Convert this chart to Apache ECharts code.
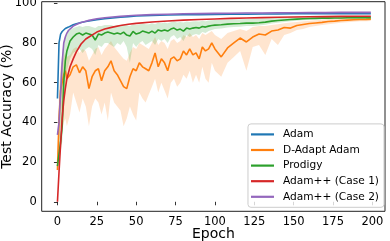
<!DOCTYPE html>
<html>
<head>
<meta charset="utf-8">
<script src="https://cdn.jsdelivr.net/npm/echarts@6/dist/echarts.min.js"></script>
<style>
html,body{margin:0;padding:0;background:#fff;}
#chart{width:390px;height:241px;}
</style>
</head>
<body>
<div id="chart"></div>
<script>
// ---- data ----
const xTicks = [0, 25, 50, 75, 100, 125, 150, 175, 200];
const yTicks = [0, 20, 40, 60, 80, 100];
const seriesNames = ['Adam', 'D-Adapt Adam', 'Prodigy', 'Adam++ (Case 1)', 'Adam++ (Case 2)'];

const epochsSmooth = [0,1,2,3,4,5,6,7,8,10,12,15,18,20,25,30,35,40,45,50,60,70,80,90,100,110,120,130,140,150,160,170,180,190,199];
const adam = [52,80,84.5,85.8,86.6,87.3,87.8,88,88.5,89.2,89.7,90.3,90.8,91.1,91.7,92.2,92.6,93,93.3,93.6,93.9,94.1,94.2,94.3,94.4,94.5,94.5,94.6,94.6,94.7,94.7,94.7,94.8,94.8,94.8];
const adamCase1 = [0,15,29,42,51,57,62,65,68,72,75.5,79.5,82,83,85.5,87,88,88.8,89.4,89.9,90.6,91.1,91.5,91.8,92.1,92.4,92.6,92.8,93,93.1,93.2,93.3,93.4,93.5,93.5];
const adamCase2 = [33.7,40,55,70,80,83,85,86.3,87.3,88.5,89.3,90.3,91,91.4,92.2,92.7,93.1,93.4,93.7,94,94.3,94.5,94.7,94.8,94.9,95,95.1,95.1,95.2,95.2,95.3,95.3,95.4,95.4,95.4];

const epochsNoisy = [0,1,2,3,4,5,6,
  8,10,12,14,16,18,20,22,24,26,
  28,30,32,34,36,38,40,42,44,46,
  48,50,52,54,56,58,60,62,64,66,
  68,70,72,74,76,78,80,82,84,86,
  88,90,92,94,96,98,100,
  104,108,112,116,120,124,128,132,136,140,
  144,148,152,156,160,164,168,172,176,180,
  184,188,192,196,199];

const dadapt = [16,42,56,60,64,66,62,
  64,68,69,65,68,66,57,63,66,67,
  61,66,68,71,66,64,61,58,57,63,
  67,66,70,68,67,66,70,75,68,72,
  70,66,72,73,71,72,76,74,77,74,
  75,72,78,76,77,80,77,
  73,77.5,80,82.5,80.5,83,84.5,84,86,86.5,
  87.8,87.5,88.8,89.3,89.8,90.1,90.4,90.8,91,91.3,
  91.5,91.7,91.8,91.9,92];
const dadaptLow = [14,26,38,35,40,42,38,
  44,55,50,45,52,48,38,48,52,50,
  44,50,41,55,50,48,46,38,42,48,
  44,41,55,52,50,54,58,62,55,60,
  56,52,60,62,58,60,64,62,66,60,
  64,60,68,62,60,70,66,
  63,70,73,76,66,78,79,74,82,79,
  84,85,86.5,87,88,88.5,89,89.5,89.8,90.2,
  90.5,90.7,90.9,91,91.1];
const dadaptHigh = [18,56,68,71,73,75,73,
  74,77,78,75,77,76,71,74,77,78,
  74,77,79,81,78,76,74,72,71,75,
  78,77,80,79,78,77,80,83,79,81,
  80,77,81,82,80,81,84,83,85,83,
  84,82,85,84,85,86,84,
  82,85,86,87,86,88,88.5,88.5,89,89.5,
  90,90.3,90.6,91,91.2,91.5,91.7,92,92.2,92.4,
  92.5,92.6,92.7,92.8,92.9];

const prodigy = [18,24,30,38,60,71,76,
  81,83,84.5,85,84,85,84.5,84,81.5,84.5,
  84,85,85.5,85,84.5,85,84.5,85.5,84,83.5,
  85.8,84.5,85,86,85.5,85,86,85,86.6,86,
  86.6,86,87,87.5,86.5,87,86,87.5,87,87.5,
  87.8,87.5,88.3,88,88.5,88.8,89,
  89.2,89.5,89.7,89.8,90,90,90.2,90.5,91,91.3,
  91.6,91.8,92,92.2,92.3,92.4,92.5,92.5,92.6,92.6,
  92.7,92.7,92.8,92.8,92.8];
const prodigyLow = [17,20,25,30,45,58,66,
  72,75,76,77,75,77,78,77,74,79,
  78,80,80,79,78,80,79,81,78,70,
  80,78,80,81,79,80,81,79,82,81,
  82,80,83,84,82,83,81,84,83,84,
  84.5,84,85.5,85,86,86.5,87,
  87.3,87.8,88,88.2,88.5,88.5,88.8,89.2,89.8,90.2,
  90.6,90.9,91.2,91.5,91.6,91.8,91.9,92,92.1,92.1,
  92.2,92.2,92.3,92.3,92.3];
const prodigyHigh = [19,50,65,75,80,83,85,
  86.5,87.5,88,88.5,88,88.5,88.5,88,87.5,88.5,
  88.5,89,89,89,88.5,89,89,89.5,89,88.5,
  89.5,89,89.5,90,89.5,89.5,90,89.5,90.3,90,
  90.3,90,90.5,90.8,90.3,90.6,90.3,90.8,90.6,90.8,
  91,90.8,91.2,91,91.3,91.5,91.6,
  91.7,91.8,91.9,92,92.1,92.2,92.3,92.5,92.7,92.9,
  93,93.1,93.2,93.3,93.3,93.4,93.4,93.4,93.5,93.5,
  93.5,93.5,93.5,93.5,93.5];

// ---- chart ----
const FONT = 'DejaVu Sans';
const zip = (xs, ys) => xs.map((x, i) => [x, ys[i]]);

function lineSeries(name, xs, ys, color, z) {
  return {
    type: 'line', name: name, data: zip(xs, ys), color: color,
    showSymbol: false, symbol: 'none', z: z,
    lineStyle: { width: 1.6, color: color },
    emphasis: { disabled: true }
  };
}
function bandSeries(name, xs, lo, hi, fill) {
  return {
    type: 'custom', name: name, coordinateSystem: 'cartesian2d', silent: true, z: 1,
    data: [[xs[0], lo[0]]],
    encode: { x: 0, y: 1 },
    renderItem: function (params, api) {
      const pts = [];
      for (let i = 0; i < xs.length; i++) pts.push(api.coord([xs[i], hi[i]]));
      for (let i = xs.length - 1; i >= 0; i--) pts.push(api.coord([xs[i], lo[i]]));
      return { type: 'polygon', shape: { points: pts }, style: { fill: fill } };
    }
  };
}

const chart = echarts.init(document.getElementById('chart'), null, { renderer: 'canvas' });
chart.setOption({
  animation: false,
  textStyle: { fontFamily: FONT },
  grid: { left: 41.7, right: 5, top: 1.7, bottom: 29.7, show: true,
          borderColor: '#222', borderWidth: 1, containLabel: false, outerBoundsMode: 'none' },
  xAxis: {
    type: 'value', min: -10, max: 208,
    name: 'Epoch', nameLocation: 'middle', nameGap: 16, nameMoveOverlap: false,
    nameTextStyle: { fontFamily: FONT, fontSize: 14, color: '#000' },
    axisLine: { show: false },
    axisTick: { show: true, length: 3.5, customValues: xTicks, lineStyle: { color: '#000', width: 0.8 } },
    axisLabel: { customValues: xTicks, fontFamily: FONT, fontSize: 11.5, color: '#000', margin: 5 },
    splitLine: { show: false }
  },
  yAxis: {
    type: 'value', min: -4.8, max: 100.8,
    name: 'Test Accuracy (%)', nameLocation: 'middle', nameGap: 27, nameMoveOverlap: false,
    nameTextStyle: { fontFamily: FONT, fontSize: 14, color: '#000' },
    axisLine: { show: false },
    axisTick: { show: true, length: 3.5, customValues: yTicks, lineStyle: { color: '#000', width: 0.8 } },
    axisLabel: { customValues: yTicks, fontFamily: FONT, fontSize: 11.5, color: '#000', margin: 5 },
    splitLine: { show: false }
  },
  legend: {
    data: seriesNames,
    orient: 'vertical', right: 6, bottom: 33.7,
    icon: 'rect', itemWidth: 23, itemHeight: 2.2, itemGap: 2.6,
    padding: [4, 5, 4, 3],
    backgroundColor: 'rgba(255,255,255,0.8)', borderColor: '#cccccc', borderWidth: 1, borderRadius: 3,
    textStyle: { fontFamily: FONT, fontSize: 10.6, color: '#000', lineHeight: 13, padding: [0, 0, 0, 4] },
    selectedMode: false
  },
  series: [
    bandSeries('D-Adapt band', epochsNoisy, dadaptLow, dadaptHigh, 'rgba(255,127,14,0.2)'),
    bandSeries('Prodigy band', epochsNoisy, prodigyLow, prodigyHigh, 'rgba(44,160,44,0.2)'),
    lineSeries('Adam', epochsSmooth, adam, '#1f77b4', 2),
    lineSeries('D-Adapt Adam', epochsNoisy, dadapt, '#ff7f0e', 3),
    lineSeries('Prodigy', epochsNoisy, prodigy, '#2ca02c', 4),
    lineSeries('Adam++ (Case 1)', epochsSmooth, adamCase1, '#d62728', 5),
    lineSeries('Adam++ (Case 2)', epochsSmooth, adamCase2, '#9467bd', 6)
  ]
});
</script>
</body>
</html>
